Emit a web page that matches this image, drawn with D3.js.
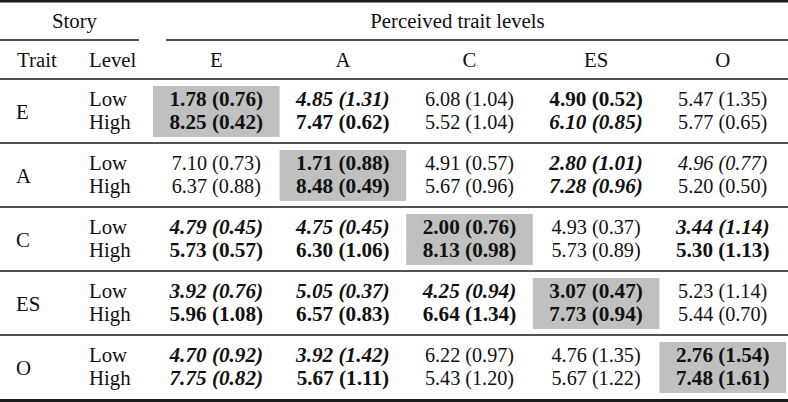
<!DOCTYPE html>
<html><head><meta charset="utf-8">
<script src="https://cdn.jsdelivr.net/npm/d3@7"></script>
<style>
html,body{margin:0;padding:0;background:#fff;}
svg text{font-family:"Liberation Serif","Times New Roman",serif;fill:#111;}
</style></head>
<body><svg id="c" width="788" height="402"></svg>
<script>
const storyTraits = ["E","A","C","ES","O"];
const levels = ["Low","High"];
const perceived = ["E","A","C","ES","O"];
// means[trait][level][perceived]
const means = [
  [[1.78,4.85,6.08,4.90,5.47],[8.25,7.47,5.52,6.10,5.77]],
  [[7.10,1.71,4.91,2.80,4.96],[6.37,8.48,5.67,7.28,5.20]],
  [[4.79,4.75,2.00,4.93,3.44],[5.73,6.30,8.13,5.73,5.30]],
  [[3.92,5.05,4.25,3.07,5.23],[5.96,6.57,6.64,7.73,5.44]],
  [[4.70,3.92,6.22,4.76,2.76],[7.75,5.67,5.43,5.67,7.48]]
];
const sds = [
  [[0.76,1.31,1.04,0.52,1.35],[0.42,0.62,1.04,0.85,0.65]],
  [[0.73,0.88,0.57,1.01,0.77],[0.88,0.49,0.96,0.96,0.50]],
  [[0.45,0.45,0.76,0.37,1.14],[0.57,1.06,0.98,0.89,1.13]],
  [[0.76,0.37,0.94,0.47,1.14],[1.08,0.83,1.34,0.94,0.70]],
  [[0.92,1.42,0.97,1.35,1.54],[0.82,1.11,1.20,1.22,1.61]]
];
// n = normal, b = bold, i = italic, bi = bold italic
const styles = [
  [["b","bi","n","b","n"],["b","b","n","bi","n"]],
  [["n","b","n","bi","i"],["n","b","n","bi","n"]],
  [["bi","bi","b","n","bi"],["b","b","b","n","b"]],
  [["bi","bi","bi","b","n"],["b","b","b","b","n"]],
  [["bi","bi","n","n","b"],["bi","b","n","n","b"]]
];

const svg = d3.select("#c");
const x = d3.scaleBand().domain(perceived).range([153, 786]);
const g = d3.scaleBand().domain(storyTraits).range([79, 399]);
const lv = d3.scalePoint().domain(levels).range([27, 50]);
const fs = 20.8;

svg.selectAll("rect.shade").data(storyTraits).join("rect")
  .attr("x", d => x(d)).attr("y", d => g(d) + 7)
  .attr("width", x.bandwidth()).attr("height", 51)
  .attr("fill", "#c0c0c0");

const line = (x1, x2, y, w) => svg.append("line").attr("x1", x1).attr("x2", x2)
  .attr("y1", y).attr("y2", y).attr("stroke", "#1a1a1a").attr("stroke-width", w);
line(0, 788, 1.2, 2.4);
line(0, 139, 40, 1.4);
line(166, 788, 40, 1.4);
line(0, 788, 79, 1.6);
storyTraits.slice(1).forEach(t => line(0, 788, g(t), 1.6));
line(0, 788, 400.5, 3);

const txt = (s, xx, yy, anchor) => svg.append("text").attr("x", xx).attr("y", yy)
  .attr("text-anchor", anchor || "start").attr("font-size", fs).text(s);
txt("Story", 74.5, 28, "middle");
txt("Perceived trait levels", 457.5, 28, "middle");
txt("Trait", 17, 67);
txt("Level", 89, 67);
perceived.forEach(p => txt(p, x(p) + x.bandwidth() / 2, 67, "middle"));

storyTraits.forEach((t, ti) => {
  txt(t, 16, g(t) + 40);
  levels.forEach(l => txt(l, 89, g(t) + lv(l)));
});

const cells = [];
storyTraits.forEach((t, ti) => levels.forEach((l, li) => perceived.forEach((p, pi) => {
  cells.push({t, l, p, m: means[ti][li][pi], s: sds[ti][li][pi], st: styles[ti][li][pi]});
})));
svg.selectAll("text.cell").data(cells).join("text")
  .attr("class", "cell")
  .attr("x", d => x(d.p) + x.bandwidth() / 2)
  .attr("y", d => g(d.t) + lv(d.l))
  .attr("text-anchor", "middle")
  .attr("font-size", d => d.st.includes("b") ? 21.2 : 20.2)
  .attr("font-weight", d => d.st.includes("b") ? "bold" : "normal")
  .attr("font-style", d => d.st.includes("i") ? "italic" : "normal")
  .text(d => d3.format(".2f")(d.m) + " (" + d3.format(".2f")(d.s) + ")");
</script></body></html>
